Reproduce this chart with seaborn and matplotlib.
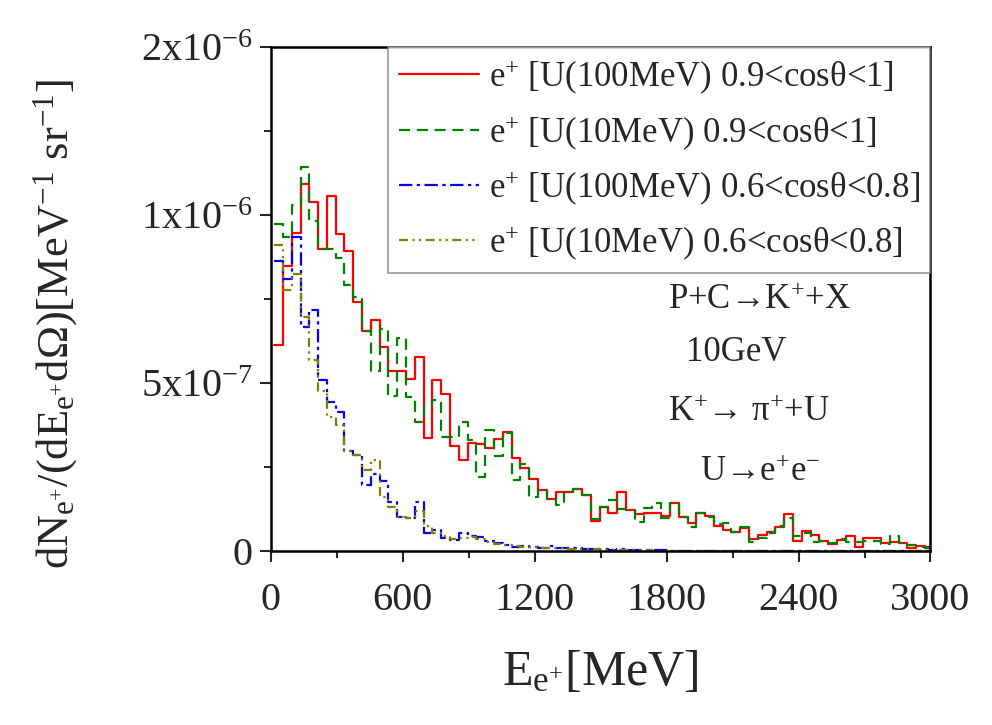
import numpy as np
import pandas as pd
import matplotlib
matplotlib.use("Agg")
import matplotlib.pyplot as plt
import seaborn as sns

# ---- data (values in units of 1e-7 MeV^-1 sr^-1), 40 MeV bins ----
bin_start = 15.0
bin_width = 40.0

red_100_fwd = [6.13, 8.48, 9.47, 10.92, 10.38, 9.00, 10.58, 9.44, 8.94, 7.41,
               6.55, 6.87, 6.06, 5.35, 5.37, 5.12, 5.78, 3.35, 5.09, 4.66,
               3.13, 2.71, 3.22, 3.20, 3.08, 3.32, 3.53, 2.78, 2.48, 2.14,
               1.82, 1.55, 1.77, 1.77, 1.85, 1.67, 0.89, 1.32, 1.14, 1.77,
               1.22, 1.09, 1.14, 1.14, 1.04, 1.44, 1.02, 0.82, 1.14, 1.04,
               0.74, 0.63, 0.58, 0.67, 0.35, 0.48, 0.58, 0.70, 1.10, 0.30,
               0.60, 0.48, 0.31, 0.21, 0.33, 0.46, 0.13, 0.40, 0.40, 0.23,
               0.28, 0.23, 0.10, 0.15, 0.13]

green_10_fwd = [9.73, 9.34, 10.30, 11.44, 9.81, 9.00, 9.00, 8.73, 7.93, 7.57,
                6.55, 5.37, 6.60, 4.62, 6.33, 4.59, 3.85, 4.32, 4.49, 3.40,
                3.40, 3.85, 3.30, 2.21, 3.60, 2.83, 3.50, 2.11, 2.60, 1.62,
                1.82, 1.55, 1.37, 1.77, 1.85, 1.67, 0.94, 1.32, 1.52, 1.24,
                1.22, 0.85, 1.27, 1.42, 0.97, 1.44, 1.00, 0.70, 1.14, 1.02,
                0.80, 0.84, 0.58, 0.70, 0.28, 0.38, 0.53, 0.74, 0.97, 0.45,
                0.55, 0.26, 0.31, 0.23, 0.35, 0.28, 0.28, 0.30, 0.30, 0.20,
                0.45, 0.23, 0.18, 0.13, 0.08]

blue_100_wide = [8.63, 8.11, 9.34, 6.67, 7.16, 5.09, 4.43, 4.13, 2.99, 2.85,
                 1.96, 2.30, 2.08, 1.46, 1.02, 0.97, 1.47, 0.53, 0.62, 0.38,
                 0.33, 0.53, 0.45, 0.41, 0.31, 0.23, 0.18, 0.11, 0.15, 0.12,
                 0.10, 0.14, 0.10, 0.08, 0.10, 0.06, 0.07, 0.05, 0.04, 0.05,
                 0.03, 0.03, 0.02, 0.02, 0.02, 0.01, 0.01, 0.01, 0.01, 0.01,
                 0.01, 0.01, 0.0, 0.0, 0.0, 0.0, 0.0, 0.0, 0.0, 0.0,
                 0.0, 0.0, 0.0, 0.0, 0.0, 0.0, 0.0, 0.0, 0.0, 0.0,
                 0.0, 0.0, 0.0, 0.0, 0.0]

olive_10_wide = [9.12, 7.76, 8.25, 6.97, 5.68, 4.77, 3.98, 3.74, 2.99, 2.85,
                 2.40, 2.70, 1.61, 1.31, 1.02, 0.97, 1.20, 0.75, 0.55, 0.45,
                 0.35, 0.40, 0.42, 0.35, 0.28, 0.22, 0.18, 0.15, 0.12, 0.13,
                 0.10, 0.09, 0.08, 0.07, 0.06, 0.05, 0.05, 0.04, 0.03, 0.03,
                 0.02, 0.02, 0.02, 0.01, 0.01, 0.01, 0.01, 0.01, 0.01, 0.0,
                 0.0, 0.0, 0.0, 0.0, 0.0, 0.0, 0.0, 0.0, 0.0, 0.0,
                 0.0, 0.0, 0.0, 0.0, 0.0, 0.0, 0.0, 0.0, 0.0, 0.0,
                 0.0, 0.0, 0.0, 0.0, 0.0]

labels = [r"$\mathrm{e}^{+}$ [U(100MeV) 0.9<cosθ<1]",
          r"$\mathrm{e}^{+}$ [U(10MeV) 0.9<cosθ<1]",
          r"$\mathrm{e}^{+}$ [U(100MeV) 0.6<cosθ<0.8]",
          r"$\mathrm{e}^{+}$ [U(10MeV) 0.6<cosθ<0.8]"]

x_ticks = [0, 600, 1200, 1800, 2400, 3000]
y_ticks = [0, 5e-7, 1e-6, 1.5e-6]
y_ticklabels = ["0", r"5x10$^{-7}$", r"1x10$^{-6}$", r"2x10$^{-6}$"]

# ---- style ----
sns.set_style("ticks")
plt.rcParams["font.family"] = ["Liberation Serif", "DejaVu Serif"]
plt.rcParams["mathtext.fontset"] = "custom"
plt.rcParams["mathtext.rm"] = "Liberation Serif"
plt.rcParams["mathtext.it"] = "Liberation Serif:italic"
plt.rcParams["mathtext.bf"] = "Liberation Serif:bold"

fig = plt.figure(figsize=(9.92, 7.25), dpi=100)
ax = fig.add_axes([0.273, 0.24, 0.665, 0.695])

series = [red_100_fwd, green_10_fwd, blue_100_wide, olive_10_wide]
colors = ["#ff0000", "#008000", "#0000ff", "#808000"]
dashes = [None, (5, 3), (6, 2, 1.5, 2), (4, 2, 1, 2, 1, 2)]

for vals, lab, col, dsh in zip(series, labels, colors, dashes):
    n = len(vals)
    edges = bin_start + bin_width * np.arange(n + 1)
    y = np.append(np.array(vals) * 1e-7, vals[-1] * 1e-7)
    df = pd.DataFrame({"E": edges, "y": y})
    sns.lineplot(x="E", y="y", data=df, ax=ax, color=col, linewidth=1.6,
                 drawstyle="steps-post", estimator=None, sort=False, label=lab)
    if dsh is not None:
        ax.lines[-1].set_dashes(dsh)

ax.set_xlim(0, 3000)
ax.set_ylim(0, 1.5e-6)
ax.set_xticks(x_ticks)
ax.set_xticklabels([str(t) for t in x_ticks])
ax.set_xticks(np.arange(0, 3001, 300), minor=True)
ax.set_yticks(y_ticks)
ax.set_yticklabels(y_ticklabels)
ax.set_yticks(np.arange(0, 1.5e-6 + 1e-12, 2.5e-7), minor=True)
ax.tick_params(axis="both", which="major", direction="out", length=8, width=1.5,
               labelsize=29)
ax.tick_params(axis="x", which="major", pad=14)
ax.tick_params(axis="y", which="major", pad=5)
ax.tick_params(axis="both", which="minor", direction="out", length=5, width=1.5)
for s in ax.spines.values():
    s.set_linewidth(1.8)
    s.set_color("black")

ax.set_xlabel(r"E$_{\mathrm{e}^{+}}$[MeV]", fontsize=36)
ax.xaxis.set_label_coords(0.5, -0.195)
ax.set_ylabel(r"dN$_{\mathrm{e}^{+}}$/(dE$_{\mathrm{e}^{+}}$dΩ)[MeV$^{-1}$ sr$^{-1}$]",
              fontsize=32)
ax.yaxis.set_label_coords(-0.29, 0.45)

leg = ax.legend(loc="upper right", bbox_to_anchor=(1.0, 1.0), fontsize=25,
                frameon=True, fancybox=False, edgecolor="#808080",
                handlelength=2.3, handletextpad=0.3, labelspacing=0.48,
                borderpad=0.3, borderaxespad=0.0)
leg.get_frame().set_linewidth(1.2)

ann = dict(transform=ax.transAxes, ha="center", va="center", fontsize=25)
ax.text(0.740, 0.497, r"P+C→K$^{+}$+X", **ann)
ax.text(0.705, 0.394, "10GeV", **ann)
ax.text(0.725, 0.275, r"K$^{+}$→ π$^{+}$+U", **ann)
ax.text(0.742, 0.156, r"U→e$^{+}$e$^{-}$", **ann)

fig.savefig("out.png", dpi=100)
